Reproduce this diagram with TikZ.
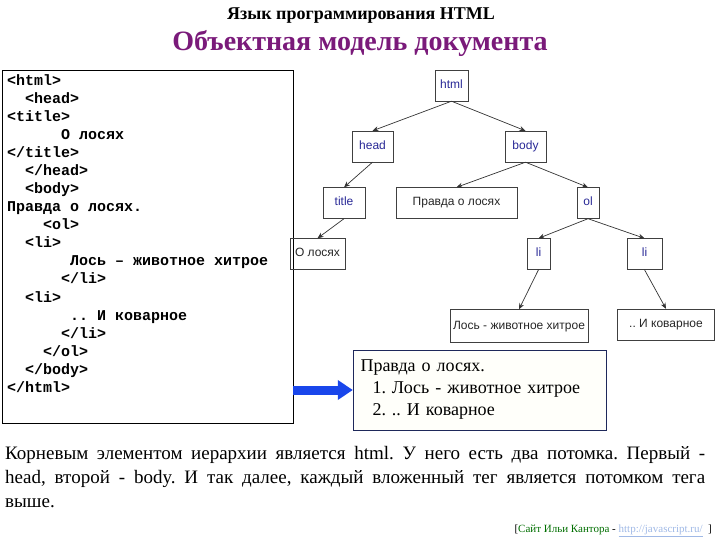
\documentclass[tikz,border=0pt]{standalone}
\usepackage{fontspec}
\setmainfont{Liberation Serif}
\newfontfamily\codefont{Liberation Mono}
\newfontfamily\treefont{Liberation Sans}
\usetikzlibrary{arrows.meta}
\frenchspacing

\definecolor{titlepurple}{RGB}{122,26,122}
\definecolor{tagblue}{RGB}{40,40,150}
\definecolor{arrowblue}{RGB}{25,70,235}
\definecolor{resultnavy}{RGB}{30,40,90}
\definecolor{sitegreen}{RGB}{0,110,0}
\definecolor{linkblue}{RGB}{160,185,230}

\begin{document}
\begin{tikzpicture}[x=1bp,y=-1bp,
  codeline/.style={anchor=base west, inner sep=0pt, font={\codefont\bfseries\fontsize{15bp}{18bp}\selectfont}},
  tnode/.style={draw=black!75, minimum height=31bp, inner sep=2bp, text height=9bp, text depth=3bp,
    font={\treefont\fontsize{12bp}{14bp}\selectfont}, text=black!85},
  tag/.style={tnode, text=tagblue},
  link/.style={draw=black!80, line width=0.7bp, -{Stealth[length=6bp,width=5bp]}},
  bigarrow/.style={arrowblue, line width=9bp, -{Triangle[length=15bp,width=19bp]}}]
\useasboundingbox (0,0) rectangle (720,540);
% titles
\node[font={\bfseries\fontsize{18bp}{20bp}\selectfont}] (toptitle) at (361,16) {Язык программирования HTML};
\node[font={\bfseries\fontsize{28bp}{32bp}\selectfont}, text=titlepurple] (maintitle) at (360,44) {Объектная модель документа};
% source code
\node[draw, minimum width=291bp, minimum height=353bp, inner sep=0pt] (code) at (147.5,246.5) {};
\node[codeline] (c1) at (7,86) {<html>};
\node[codeline] (c2) at (25,104) {<head>};
\node[codeline] (c3) at (7,122) {<title>};
\node[codeline] (c4) at (61,140) {О лосях};
\node[codeline] (c5) at (7,158) {</title>};
\node[codeline] (c6) at (25,176) {</head>};
\node[codeline] (c7) at (25,194) {<body>};
\node[codeline] (c8) at (7,212) {Правда о лосях.};
\node[codeline] (c9) at (43,230) {<ol>};
\node[codeline] (c10) at (25,248) {<li>};
\node[codeline] (c11) at (70,266) {Лось – животное хитрое};
\node[codeline] (c12) at (61,284) {</li>};
\node[codeline] (c13) at (25,302) {<li>};
\node[codeline] (c14) at (70,320) {.. И коварное};
\node[codeline] (c15) at (61,338) {</li>};
\node[codeline] (c16) at (43,356) {</ol>};
\node[codeline] (c17) at (25,374) {</body>};
\node[codeline] (c18) at (7,392) {</html>};
% tree
\node[tag, minimum width=33bp] (html) at (451.5,85.5) {html};
\node[tag, minimum width=41bp] (head) at (372.5,146.5) {head};
\node[tag, minimum width=41bp] (body) at (525.5,146.5) {body};
\node[tag, minimum width=42bp] (title) at (344,203) {title};
\node[tnode, minimum width=121bp] (pravda) at (456.5,203) {Правда о лосях};
\node[tag, minimum width=22bp] (ol) at (588,203) {ol};
\node[tnode, minimum width=55bp] (olosyah) at (317.5,254) {О лосях};
\node[tag, minimum width=23bp] (lione) at (538.5,254) {li};
\node[tag, minimum width=35bp] (litwo) at (644.5,254) {li};
\node[tnode, minimum width=138bp, minimum height=33bp] (los) at (519,326) {Лось - животное хитрое};
\node[tnode, minimum width=97bp] (kov) at (666,324.5) {.. И коварное};
\draw[link] (html.south) -- (head.north);
\draw[link] (html.south) -- (body.north);
\draw[link] (head.south) -- (title.north);
\draw[link] (body.south) -- (pravda.north);
\draw[link] (body.south) -- (ol.north);
\draw[link] (title.south) -- (olosyah.north);
\draw[link] (ol.south) -- (lione.north);
\draw[link] (ol.south) -- (litwo.north);
\draw[link] (lione.south) -- (los.north);
\draw[link] (litwo.south) -- (kov.north);
% rendered page
\node[draw=resultnavy, fill=yellow!2, minimum width=253bp, minimum height=80bp, text width=238bp, align=left,
  font={\fontsize{18bp}{22bp}\selectfont}] (result) at (479.5,390)
  {Правда о лосях.\\\hspace*{12bp}1. Лось - животное хитрое\\\hspace*{12bp}2. .. И коварное};
\draw[bigarrow] (code.east |- result.west) -- (result.west);
% explanation
\node[anchor=north west, inner sep=0pt, text width=700bp, align=justify,
  font={\fontsize{19bp}{24bp}\selectfont}] (para) at (5,446)
  {Корневым элементом иерархии является html. У~него есть два потомка. Первый -\linebreak
   head, второй - body. И~так далее, каждый вложенный тег является потомком тега\linebreak
   выше.};
\node[anchor=base east, inner sep=0pt, font={\fontsize{11bp}{13bp}\selectfont}] (site) at (712,532)
  {[\textcolor{sitegreen}{Сайт Ильи Кантора} - \textcolor{linkblue}{\underline{http://javascript.ru/}}\ \ ]};
\end{tikzpicture}
\end{document}
